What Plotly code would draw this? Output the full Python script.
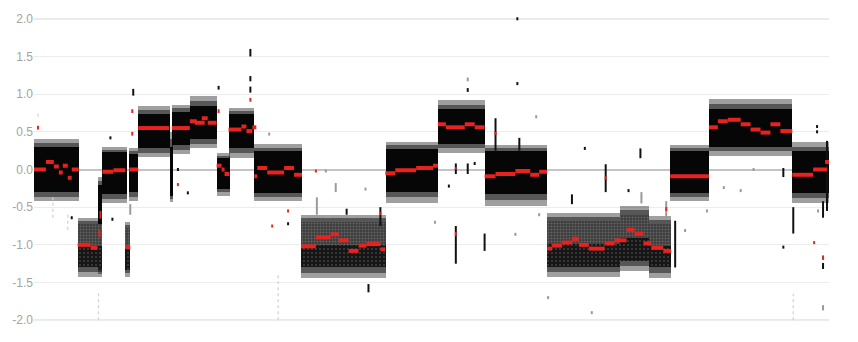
import plotly.graph_objects as go

# ---------------- data (x in probe-bin units, y = log2 ratio) ----------------
# dense segment bands: start, end, core top/bottom, fringe top/bottom, kind (N = neutral/gain, L = loss)
seg_start = [0, 44, 64, 69, 92, 96, 105, 137, 139, 157, 184, 196, 222, 269, 355, 407, 454, 517, 590, 620, 641, 680, 764]
seg_end   = [45, 69, 69, 94, 97, 105, 137, 140, 157, 184, 197, 222, 270, 355, 407, 454, 517, 590, 620, 642, 680, 764, 801]
core_top  = [0.3, -0.72, -0.2, 0.23, -0.78, 0.2, 0.74, 0.3, 0.76, 0.84, 0.15, 0.74, 0.24, -0.7, 0.27, 0.8, 0.24, -0.68, -0.6, -0.72, 0.24, 0.8, 0.24]
core_bot  = [-0.3, -1.3, -1.3, -0.33, -1.33, -0.3, 0.28, -0.35, 0.33, 0.4, -0.26, 0.28, -0.31, -1.3, -0.3, 0.34, -0.33, -1.3, -1.22, -1.3, -0.31, 0.3, -0.31]
fringe_top = [0.4, -0.64, -0.1, 0.3, -0.7, 0.28, 0.84, 0.5, 0.86, 0.98, 0.22, 0.82, 0.34, -0.6, 0.37, 0.92, 0.33, -0.58, -0.48, -0.62, 0.33, 0.93, 0.36]
fringe_bot = [-0.42, -1.42, -1.38, -0.45, -1.42, -0.42, 0.17, -0.43, 0.2, 0.28, -0.35, 0.15, -0.42, -1.44, -0.44, 0.22, -0.48, -1.42, -1.35, -1.44, -0.42, 0.18, -0.45]
seg_kind  = ["N", "L", "N", "N", "L", "N", "N", "N", "N", "N", "N", "N", "N", "L", "N", "N", "N", "L", "L", "L", "N", "N", "N"]

# red segmentation calls: start, end, level
red_x0 = [0, 12, 20, 25, 29, 34, 38, 44, 57, 69, 80, 92, 96, 105, 139, 157, 162, 169, 175, 184, 189, 192,
          196, 209, 214, 220, 222, 225, 235, 252, 262, 269, 284, 299, 307, 317, 327, 335, 349,
          354, 364, 385, 402, 407, 415, 434, 444, 454, 465, 485, 500, 509,
          517, 522, 532, 542, 549, 559, 575, 585, 597, 605, 614, 622, 634, 641,
          680, 689, 699, 712, 722, 732, 742, 752, 764, 785, 797]
red_x1 = [12, 20, 25, 29, 34, 38, 45, 57, 64, 80, 92, 97, 105, 136, 157, 164, 172, 175, 184, 189, 192, 197,
          209, 214, 220, 224, 225, 235, 252, 262, 270, 284, 299, 307, 317, 327, 335, 349, 354,
          364, 385, 402, 407, 415, 434, 444, 454, 465, 485, 500, 509, 517,
          522, 532, 542, 549, 559, 575, 585, 597, 605, 614, 622, 634, 642, 680,
          689, 699, 712, 722, 732, 742, 752, 764, 785, 799, 801]
red_y = [0.0, 0.1, 0.04, -0.04, 0.05, -0.11, 0.0, -1.0, -1.04, -0.03, -0.01, -1.03, 0.0, 0.55, 0.55, 0.64, 0.62, 0.68, 0.62, 0.05, 0.0, -0.06,
         0.53, 0.57, 0.51, 0.56, -0.09, 0.02, -0.04, 0.02, -0.07, -1.02, -0.9, -0.86, -0.94, -1.08, -1.01, -0.99, -1.06,
         -0.05, -0.01, 0.02, 0.05, 0.6, 0.56, 0.6, 0.56, -0.09, -0.06, -0.02, -0.07, -0.03,
         -1.05, -1.01, -0.97, -0.92, -1.0, -1.05, -0.98, -0.94, -0.8, -0.85, -0.98, -1.04, -1.08, -0.09,
         0.56, 0.64, 0.66, 0.6, 0.53, 0.49, 0.6, 0.51, -0.07, 0.0, 0.1]

# scattered outlier probes: bin, low, high, colour class (k black, g grey, l pale, r red)
out_x  = [487, 487, 437, 437, 218, 218, 218, 218, 100, 99, 99, 186, 186, 4, 4, 19, 34, 38, 65, 66, 67, 79, 77, 97,
          145, 145, 155, 237, 246, 240, 256, 256, 284, 294, 285, 304, 315, 349, 349, 334, 337,
          404, 418, 425, 425, 425, 425, 437, 444, 454, 465, 465, 489, 485, 506, 509, 518,
          542, 555, 562, 576, 576, 599, 611, 612, 637, 637, 646, 656, 678, 695, 712, 725,
          755, 755, 765, 765, 789, 789, 786, 790, 795, 795, 795, 795, 799]
out_lo = [1.98, 1.12, 1.17, 1.03, 1.5, 1.17, 1.02, 0.9, 0.98, 0.75, 0.45, 1.06, 0.75, 0.7, 0.53, -0.64, -0.8, -0.66, -2.0, -0.9, -0.65, -0.68, 0.4, -0.6,
          -0.22, -0.02, -0.33, 0.45, -2.0, -0.77, -0.57, -0.74, -0.04, -0.04, -0.6, -0.3, -0.6, -0.75, -0.6, -0.28, -1.63,
          -0.72, -0.24, -1.25, -0.88, -0.06, 0.0, -0.06, 0.06, -1.08, 0.25, 0.46, 0.25, -0.88, 0.68, -0.62, -1.72,
          -0.46, 0.26, -1.92, -0.3, -0.13, -0.3, 0.15, -0.45, -0.64, -0.55, -1.3, -0.83, -0.57, -0.26, -0.3, -0.02,
          -0.1, -1.05, -0.85, -2.0, 0.48, 0.55, -0.99, -0.57, -0.64, -1.2, -1.32, -1.87, -0.55]
out_hi = [2.02, 1.16, 1.22, 1.08, 1.6, 1.24, 1.1, 0.95, 1.07, 0.8, 0.5, 1.11, 0.8, 0.76, 0.58, -0.37, -0.6, -0.62, -1.6, -0.8, -0.55, -0.64, 0.44, -0.46,
          -0.18, 0.02, -0.29, 0.49, -1.4, -0.73, -0.53, -0.7, 0.0, 0.0, -0.37, -0.18, -0.52, -0.5, -0.56, -0.24, -1.52,
          -0.68, -0.2, -0.75, -0.83, 0.08, 0.03, 0.08, 0.1, -0.85, 0.68, 0.5, 0.42, -0.84, 0.72, -0.58, -1.68,
          -0.33, 0.3, -1.88, 0.07, -0.09, -0.26, 0.28, -0.3, -0.42, -0.5, -0.68, -0.79, -0.53, -0.22, -0.26, 0.02,
          0.02, -1.01, -0.5, -1.65, 0.52, 0.59, -0.95, -0.53, -0.42, -1.14, -1.24, -1.8, 0.38]
out_col = ["k", "k", "g", "k", "k", "k", "k", "r", "k", "r", "r", "k", "r", "l", "r", "l", "l", "k", "l", "r", "r", "k", "k", "g",
           "r", "k", "k", "g", "l", "r", "r", "k", "r", "g", "g", "g", "k", "k", "r", "g", "k",
           "g", "k", "k", "r", "k", "r", "k", "k", "k", "k", "r", "k", "g", "g", "g", "g",
           "k", "k", "g", "k", "r", "k", "k", "g", "g", "r", "k", "g", "g", "g", "g", "g",
           "k", "k", "k", "l", "k", "k", "r", "g", "k", "r", "k", "g", "k"]

tick_vals = [2.0, 1.5, 1.0, 0.5, 0.0, -0.5, -1.0, -1.5, -2.0]
tick_text = ["2.0", "1.5", "1.0", "0.5", "0.0", "-0.5", "-1.0", "-1.5", "-2.0"]

# ---------------- figure ----------------
fig = go.Figure()


def add_bars(idx, lo, hi, marker):
    xs = [(seg_start[i] + seg_end[i]) / 2 for i in idx]
    ws = [seg_end[i] - seg_start[i] for i in idx]
    hs = [h - l for h, l in zip(hi, lo)]
    fig.add_trace(go.Bar(x=xs, y=hs, base=lo, width=ws, marker=marker,
                         hoverinfo="skip", showlegend=False))


for kind in ["N", "L"]:
    idx = [i for i, k in enumerate(seg_kind) if k == kind]
    # soft ragged fringe: outer and intermediate translucent layers
    add_bars(idx, [fringe_bot[i] for i in idx], [fringe_top[i] for i in idx],
             dict(color="rgba(0,0,0,0.28)", line=dict(width=0),
                  pattern=dict(shape="|", fgcolor="rgba(0,0,0,0.55)", size=2, solidity=0.5, fillmode="overlay")))
    add_bars(idx, [(fringe_bot[i] + core_bot[i]) / 2 for i in idx], [(fringe_top[i] + core_top[i]) / 2 for i in idx],
             dict(color="rgba(0,0,0,0.45)", line=dict(width=0)))
    if kind == "N":
        add_bars(idx, [core_bot[i] for i in idx], [core_top[i] for i in idx],
                 dict(color="#060606", line=dict(width=0)))
    else:
        mids = [(core_top[i] + core_bot[i]) / 2 for i in idx]
        add_bars(idx, [core_bot[i] for i in idx], mids,
                 dict(color="#161616", line=dict(width=0),
                      pattern=dict(shape=".", fgcolor="#6a6a6a", bgcolor="#161616", size=4, solidity=0.2, fillmode="overlay")))
        add_bars(idx, mids, [core_top[i] for i in idx],
                 dict(color="#3c3c3c", line=dict(width=0),
                      pattern=dict(shape=".", fgcolor="#8e8e8e", bgcolor="#3c3c3c", size=3, solidity=0.35, fillmode="overlay")))

# outliers as short vertical strokes
col_map = {"k": "#111111", "g": "#9a9a9a", "l": "#cdd6da", "r": "#e8231f"}
for c in ["l", "g", "k", "r"]:
    xs, ys = [], []
    for x, lo, hi, cc in zip(out_x, out_lo, out_hi, out_col):
        if cc == c:
            xs += [x, x, None]
            ys += [lo, hi, None]
    fig.add_trace(go.Scatter(x=xs, y=ys, mode="lines",
                             line=dict(color=col_map[c], width=2 if c != "l" else 1.3,
                                       dash="solid" if c != "l" else "dot"),
                             hoverinfo="skip", showlegend=False))

# red segment calls
rx, ry = [], []
for a, b, v in zip(red_x0, red_x1, red_y):
    rx += [a, b, None]
    ry += [v, v, None]
fig.add_trace(go.Scatter(x=rx, y=ry, mode="lines", line=dict(color="#e8231f", width=4),
                         hoverinfo="skip", showlegend=False))

# reference lines at +/-2
for v in [2.0, -2.0]:
    fig.add_hline(y=v, line=dict(color="#ffc4c4", width=1.5), layer="below")

fig.update_layout(
    width=858, height=342,
    margin=dict(l=28, r=29, t=13, b=18),
    paper_bgcolor="white", plot_bgcolor="white",
    barmode="overlay", bargap=0,
    xaxis=dict(range=[0, 801], showgrid=False, zeroline=False, showticklabels=False,
               ticks="", showline=False),
    yaxis=dict(range=[-2.05, 2.05], tickvals=tick_vals, ticktext=tick_text,
               showgrid=True, gridcolor="#ececec", gridwidth=1.3,
               zeroline=True, zerolinecolor="#c4c4c4", zerolinewidth=1.5,
               ticks="", showline=False,
               tickfont=dict(family="Liberation Sans, Arial, sans-serif", size=12, color="#a3a3a3")),
    font=dict(family="Liberation Sans, Arial, sans-serif"),
)

fig.write_html("out.html")
